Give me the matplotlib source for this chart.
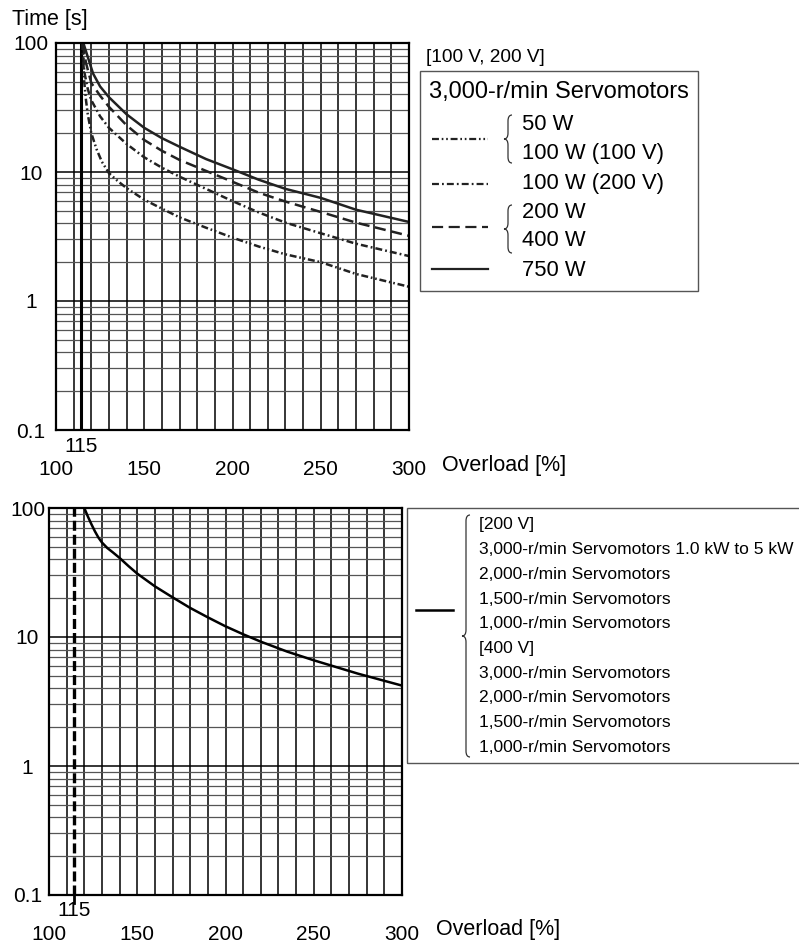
import numpy as np
import matplotlib
matplotlib.use('Agg')
import matplotlib.pyplot as plt
from matplotlib.lines import Line2D
from matplotlib.patches import Rectangle, PathPatch
from matplotlib.path import Path
from matplotlib.ticker import LogLocator, NullFormatter
import matplotlib.transforms as mtransforms

plt.rcParams['font.family'] = ['Liberation Sans', 'DejaVu Sans']
plt.rcParams['lines.scale_dashes'] = False

W, H = 799, 943

# ---------------- data ----------------
x_ticks = [100, 150, 200, 250, 300]
x_tick_labels = ['100', '150', '200', '250', '300']
y_ticks = [0.1, 1, 10, 100]
y_tick_labels = ['0.1', '1', '10', '100']
threshold_label = '115'
threshold_x = 114.2

# top chart: 3,000-r/min servomotors [100 V, 200 V]
x_50w = [115, 116, 117, 118, 120, 123, 126, 130, 135, 140, 150, 160, 170, 185, 200, 215, 230, 250, 270, 300]
t_50w = [100, 50, 36, 28, 20, 15, 12, 9.8, 8.5, 7.5, 6.1, 5.2, 4.45, 3.7, 3.1, 2.64, 2.3, 2.0, 1.62, 1.29]

x_100w200 = [115, 116, 118, 120, 125, 130, 140, 150, 160, 170, 185, 200, 215, 230, 250, 270, 300]
t_100w200 = [100, 60, 44, 36, 27, 22, 16.5, 13.0, 10.8, 9.2, 7.4, 5.95, 4.85, 4.05, 3.35, 2.78, 2.23]

x_200w = [115, 117, 120, 125, 130, 140, 150, 160, 170, 185, 200, 215, 230, 250, 270, 300]
t_200w = [100, 70, 49, 39, 32, 23, 17.7, 14.6, 12.4, 10.2, 8.4, 6.9, 5.9, 4.9, 4.05, 3.2]

x_750w = [115.5, 118, 121, 125, 130, 140, 150, 160, 170, 185, 200, 215, 230, 250, 270, 300]
t_750w = [100, 78, 58, 46, 38, 28, 22, 18.3, 15.7, 12.6, 10.5, 8.7, 7.4, 6.3, 5.1, 4.1]

# bottom chart
x_big = [120, 122, 124, 126, 128, 130, 133, 136, 140, 145, 150, 160, 170, 180, 190, 200,
         210, 220, 235, 250, 275, 300]
t_big = [100, 86, 75, 66, 59, 54, 49, 45.5, 41, 35.5, 31, 24.7, 20.3, 16.8, 14.2, 12.1,
         10.5, 9.2, 7.7, 6.6, 5.2, 4.2]

top_header = '[100 V, 200 V]'
top_title = '3,000-r/min Servomotors'
top_items = ['50 W', '100 W (100 V)', '100 W (200 V)', '200 W', '400 W', '750 W']
bottom_items = ['[200 V]',
                '3,000-r/min Servomotors 1.0 kW to 5 kW',
                '2,000-r/min Servomotors',
                '1,500-r/min Servomotors',
                '1,000-r/min Servomotors',
                '[400 V]',
                '3,000-r/min Servomotors',
                '2,000-r/min Servomotors',
                '1,500-r/min Servomotors',
                '1,000-r/min Servomotors']

# ---------------- styles ----------------
ls_50w = (0, (5, 2, 1.2, 2, 1.2, 2))
ls_100w = (0, (5, 2.2, 1.3, 2.2))
ls_200w = (0, (8, 4))
ls_750w = '-'
CURVE_LW = 1.8

fig = plt.figure(figsize=(W / 100, H / 100), dpi=100)


def fx(x):
    return x / W


def fy(y):
    return 1 - y / H


def make_axes(left, top, right, bottom, ypad):
    ax = fig.add_axes([fx(left), fy(bottom), (right - left) / W, (bottom - top) / H])
    ax.set_yscale('log')
    ax.set_xlim(100, 300)
    ax.set_ylim(0.1, 100)
    ax.set_xticks(x_ticks)
    ax.set_xticklabels(x_tick_labels)
    ax.set_xticks(np.arange(100, 301, 10), minor=True)
    ax.set_yticks(y_ticks)
    ax.set_yticklabels(y_tick_labels, ha='center')
    ax.yaxis.set_minor_locator(LogLocator(base=10, subs=np.arange(2, 10)))
    ax.yaxis.set_minor_formatter(NullFormatter())
    ax.tick_params(which='both', length=0)
    ax.tick_params(axis='x', pad=21.5, labelsize=15)
    ax.tick_params(axis='y', pad=ypad, labelsize=15)
    ax.grid(which='both', axis='x', color='black', lw=1.1)
    ax.grid(which='major', axis='y', color='black', lw=1.1)
    ax.grid(which='minor', axis='y', color='#555555', lw=0.9)
    ax.set_axisbelow(True)
    for s in ax.spines.values():
        s.set_linewidth(1.6)
        s.set_color('black')
    ax.text(threshold_x, -16 / (bottom - top), threshold_label, fontsize=15,
            ha='center', va='center',
            transform=mtransforms.blended_transform_factory(ax.transData, ax.transAxes))
    return ax


def brace(x_tip, y0, y1, w, lw=0.9, color='#333333'):
    ym = (y0 + y1) / 2
    r = min(6, (y1 - y0) / 4)
    xm = x_tip + w / 2
    xe = x_tip + w
    pts = [(xe, y0), (xm, y0), (xm, y0 + r),
           (xm, ym - r), (xm, ym), (x_tip, ym),
           (xm, ym), (xm, ym + r),
           (xm, y1 - r), (xm, y1), (xe, y1)]
    codes = [Path.MOVETO, Path.CURVE3, Path.CURVE3,
             Path.LINETO, Path.CURVE3, Path.CURVE3,
             Path.CURVE3, Path.CURVE3,
             Path.LINETO, Path.CURVE3, Path.CURVE3]
    pts = [(fx(a), fy(b)) for a, b in pts]
    p = PathPatch(Path(pts, codes), fill=False, lw=lw, edgecolor=color,
                  transform=fig.transFigure)
    fig.add_artist(p)


# ---------------- top chart ----------------
ax1 = make_axes(56, 43, 409, 430, ypad=18)
ax1.plot([threshold_x, threshold_x], [0.1, 100], color='black', lw=2.2)
ax1.plot(x_50w, t_50w, color='#222222', lw=CURVE_LW, linestyle=ls_50w)
ax1.plot(x_100w200, t_100w200, color='#222222', lw=CURVE_LW, linestyle=ls_100w)
ax1.plot(x_200w, t_200w, color='#222222', lw=CURVE_LW, linestyle=ls_200w)
ax1.plot(x_750w, t_750w, color='#222222', lw=CURVE_LW, linestyle=ls_750w)

fig.text(fx(12), fy(20), 'Time [s]', fontsize=15.5, va='center', ha='left')
fig.text(fx(442), fy(466), 'Overload [%]', fontsize=15.5, va='center', ha='left')

# top legend
fig.text(fx(426), fy(57), top_header, fontsize=13.7, va='center', ha='left')
fig.add_artist(Rectangle((fx(420), fy(291)), 278 / W, 220 / H, fill=False,
                         edgecolor='#555555', lw=1.0, transform=fig.transFigure))
fig.text(fx(429), fy(92), top_title, fontsize=17, va='center', ha='left')
item_y = [125, 153, 183, 213, 241, 270]
for txt, yy in zip(top_items, item_y):
    fig.text(fx(522), fy(yy), txt, fontsize=15.8, va='center', ha='left')
sample_specs = [(139, ls_50w), (184, ls_100w), (227, ls_200w), (269, ls_750w)]
for yy, ls in sample_specs:
    fig.add_artist(Line2D([fx(432), fx(488)], [fy(yy), fy(yy)], color='#222222',
                          lw=1.6, linestyle=ls, transform=fig.transFigure))
brace(504, 115, 163, 8)
brace(504, 205, 253, 8)

# ---------------- bottom chart ----------------
ax2 = make_axes(49, 508, 402, 895, ypad=15.5)
ax2.plot([threshold_x, threshold_x], [0.1, 100], color='black', lw=2.4,
         linestyle=(0, (7.2, 2.9)))
ax2.plot(x_big, t_big, color='black', lw=CURVE_LW)
# small tick below axis at threshold
tr = mtransforms.blended_transform_factory(ax2.transData, ax2.transAxes)
ax2.add_line(Line2D([threshold_x, threshold_x], [0, -8 / 387], color='black', lw=2,
                    transform=tr, clip_on=False))

fig.text(fx(436), fy(930), 'Overload [%]', fontsize=15.5, va='center', ha='left')

fig.add_artist(Rectangle((fx(407), fy(763)), 500 / W, 255 / H, fill=False,
                         edgecolor='#555555', lw=1.0, transform=fig.transFigure))
fig.add_artist(Line2D([fx(416), fx(453)], [fy(610), fy(610)], color='black',
                      lw=1.8, transform=fig.transFigure))
brace(462, 515, 757, 8)
by = 525
for txt in bottom_items:
    fig.text(fx(479), fy(by), txt, fontsize=12.5, va='center', ha='left')
    by += 24.7

fig.savefig('out.png', dpi=100)
